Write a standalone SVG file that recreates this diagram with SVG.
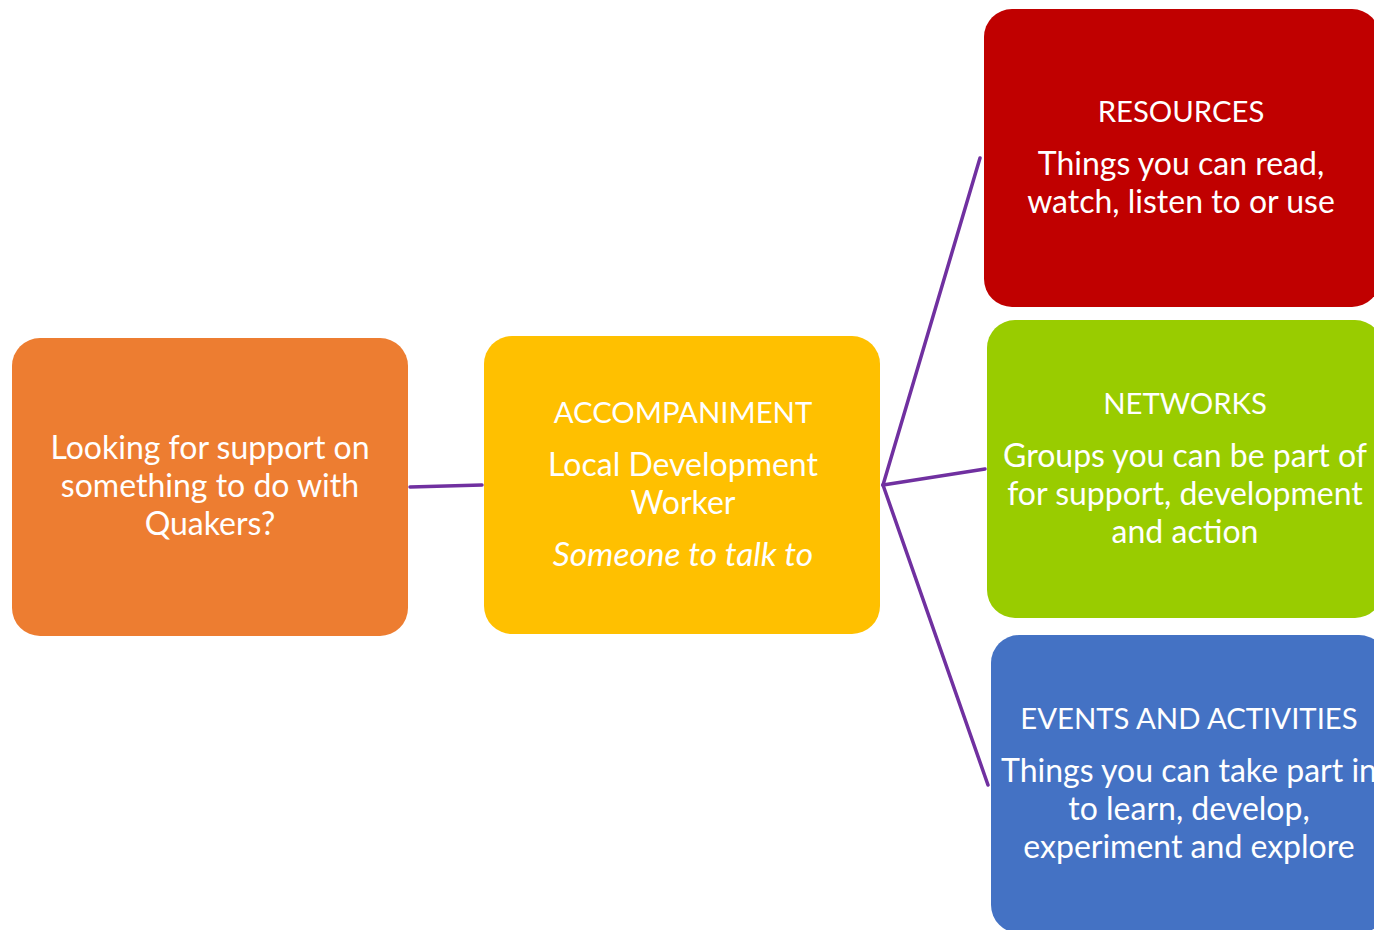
<svg xmlns="http://www.w3.org/2000/svg" width="1374" height="930" viewBox="0 0 1374 930">
  <style>
    .box { stroke: none; }
    .t { font-family: Lato, "Open Sans", "Liberation Sans", sans-serif; font-size: 32px; fill: #FFFFFF; text-anchor: middle; }
    .h { font-size: 29.3px; }
    .i { font-style: italic; font-size: 33.5px; }
    .link { stroke: #7030A0; stroke-width: 3.5; fill: none; stroke-linecap: round; }
  </style>
  <rect width="1374" height="930" fill="#FFFFFF"/>

  <g id="connectors">
    <line class="link" x1="410" y1="487" x2="482" y2="485"/>
    <line class="link" x1="883" y1="485" x2="980" y2="158"/>
    <line class="link" x1="883" y1="485" x2="985" y2="469"/>
    <line class="link" x1="883" y1="485" x2="988" y2="785"/>
  </g>

  <g id="node-start">
    <rect class="box" x="12" y="338" width="396" height="298" rx="28" fill="#ED7D31"/>
    <text class="t" x="210" y="459">Looking for support on</text>
    <text class="t" x="210" y="497">something to do with</text>
    <text class="t" x="210" y="535">Quakers?</text>
  </g>

  <g id="node-accompaniment">
    <rect class="box" x="484" y="336" width="396" height="298" rx="28" fill="#FFC000"/>
    <text class="t h" x="683" y="423">ACCOMPANIMENT</text>
    <text class="t" x="683" y="476">Local Development</text>
    <text class="t" x="683" y="514">Worker</text>
    <text class="t i" x="683" y="566">Someone to talk to</text>
  </g>

  <g id="node-resources">
    <rect class="box" x="984" y="9" width="396" height="298" rx="28" fill="#C00000"/>
    <text class="t h" x="1181" y="122">RESOURCES</text>
    <text class="t" x="1181" y="175">Things you can read,</text>
    <text class="t" x="1181" y="213">watch, listen to or use</text>
  </g>

  <g id="node-networks">
    <rect class="box" x="987" y="320" width="396" height="298" rx="28" fill="#99CC00"/>
    <text class="t h" x="1185" y="414">NETWORKS</text>
    <text class="t" x="1185" y="467">Groups you can be part of</text>
    <text class="t" x="1185" y="505">for support, development</text>
    <text class="t" x="1185" y="543">and action</text>
  </g>

  <g id="node-events">
    <rect class="box" x="991" y="635" width="396" height="298" rx="28" fill="#4472C4"/>
    <text class="t h" x="1189" y="729">EVENTS AND ACTIVITIES</text>
    <text class="t" x="1189" y="782">Things you can take part in</text>
    <text class="t" x="1189" y="820">to learn, develop,</text>
    <text class="t" x="1189" y="858">experiment and explore</text>
  </g>
</svg>
